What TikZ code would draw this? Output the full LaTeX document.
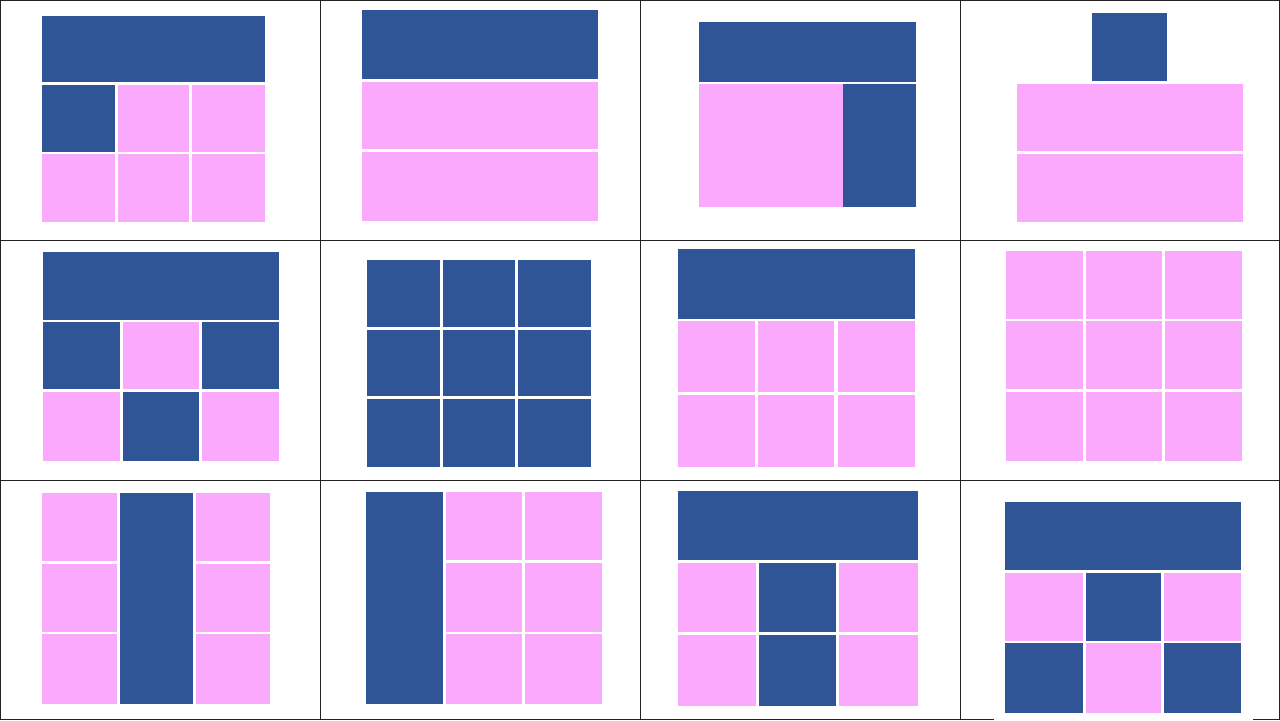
\documentclass[tikz,border=0pt]{standalone}
\usepackage{tikz}
\definecolor{lblue}{HTML}{2F5597}
\definecolor{lpink}{HTML}{FBA9FD}
\definecolor{gridc}{HTML}{222222}
\tikzset{
  bl/.style={fill=lblue},
  pk/.style={fill=lpink},
  gridline/.style={draw=gridc, line width=0.8pt}
}
\begin{document}
\begin{tikzpicture}[x=0.05cm,y=-0.05cm]
\fill[white] (0,0) rectangle (1280,720);
\useasboundingbox (0,0) rectangle (1280,720);
% grid
\draw[gridline] (0.5,0.5) rectangle (1279.5,719.5);
\draw[gridline] (320,0) -- (320,720);
\draw[gridline] (640,0) -- (640,720);
\draw[gridline] (960,0) -- (960,720);
\draw[gridline] (0,240) -- (1280,240);
\draw[gridline] (0,480) -- (1280,480);

% Panel 1
\fill[bl] (42,16) rectangle (265,82);
\fill[bl] (42,85) rectangle (115,152);
\fill[pk] (118,85) rectangle (189,152);
\fill[pk] (192,85) rectangle (265,152);
\fill[pk] (42,154) rectangle (115,222);
\fill[pk] (118,154) rectangle (189,222);
\fill[pk] (192,154) rectangle (265,222);

% Panel 2
\fill[bl] (362,10) rectangle (598,79);
\fill[pk] (362,82) rectangle (598,149);
\fill[pk] (362,152) rectangle (598,221);

% Panel 3
\fill[bl] (699,22) rectangle (916,82);
\fill[pk] (699,84) rectangle (843,207);
\fill[bl] (843,84) rectangle (916,207);

% Panel 4
\fill[bl] (1092,13) rectangle (1167,81);
\fill[pk] (1017,84) rectangle (1243,151);
\fill[pk] (1017,154) rectangle (1243,222);

% Panel 5
\fill[bl] (43,252) rectangle (279,320);
\fill[bl] (43,322) rectangle (120,389);
\fill[pk] (123,322) rectangle (199,389);
\fill[bl] (202,322) rectangle (279,389);
\fill[pk] (43,392) rectangle (120,461);
\fill[bl] (123,392) rectangle (199,461);
\fill[pk] (202,392) rectangle (279,461);

% Panel 6
\foreach \xa/\xb in {367/440,443/515,518/591}{
  \foreach \ya/\yb in {260/327,330/396,399/467}{
    \fill[bl] (\xa,\ya) rectangle (\xb,\yb);
  }
}

% Panel 7
\fill[bl] (678,249) rectangle (915,319);
\foreach \xa/\xb in {678/755,758/834,838/915}{
  \foreach \ya/\yb in {321/392,395/467}{
    \fill[pk] (\xa,\ya) rectangle (\xb,\yb);
  }
}

% Panel 8
\foreach \xa/\xb in {1006/1083,1086/1162,1165/1242}{
  \foreach \ya/\yb in {251/319,321/389,392/461}{
    \fill[pk] (\xa,\ya) rectangle (\xb,\yb);
  }
}

% Panel 9
\fill[bl] (120,493) rectangle (193,704);
\foreach \ya/\yb in {493/561,564/632,634/704}{
  \fill[pk] (42,\ya) rectangle (117,\yb);
  \fill[pk] (196,\ya) rectangle (270,\yb);
}

% Panel 10
\fill[bl] (366,492) rectangle (443,704);
\foreach \ya/\yb in {492/560,563/632,634/704}{
  \fill[pk] (446,\ya) rectangle (522,\yb);
  \fill[pk] (525,\ya) rectangle (602,\yb);
}

% Panel 11
\fill[bl] (678,491) rectangle (918,560);
\fill[pk] (678,563) rectangle (756,632);
\fill[bl] (759,563) rectangle (836,632);
\fill[pk] (839,563) rectangle (918,632);
\fill[pk] (678,635) rectangle (756,706);
\fill[bl] (759,635) rectangle (836,706);
\fill[pk] (839,635) rectangle (918,706);

% Panel 12
\fill[white] (994,713) rectangle (1253,720);
\fill[bl] (1005,502) rectangle (1241,570);
\fill[pk] (1005,573) rectangle (1083,641);
\fill[bl] (1086,573) rectangle (1161,641);
\fill[pk] (1164,573) rectangle (1241,641);
\fill[bl] (1005,643) rectangle (1083,713);
\fill[pk] (1086,643) rectangle (1161,713);
\fill[bl] (1164,643) rectangle (1241,713);
\end{tikzpicture}
\end{document}
